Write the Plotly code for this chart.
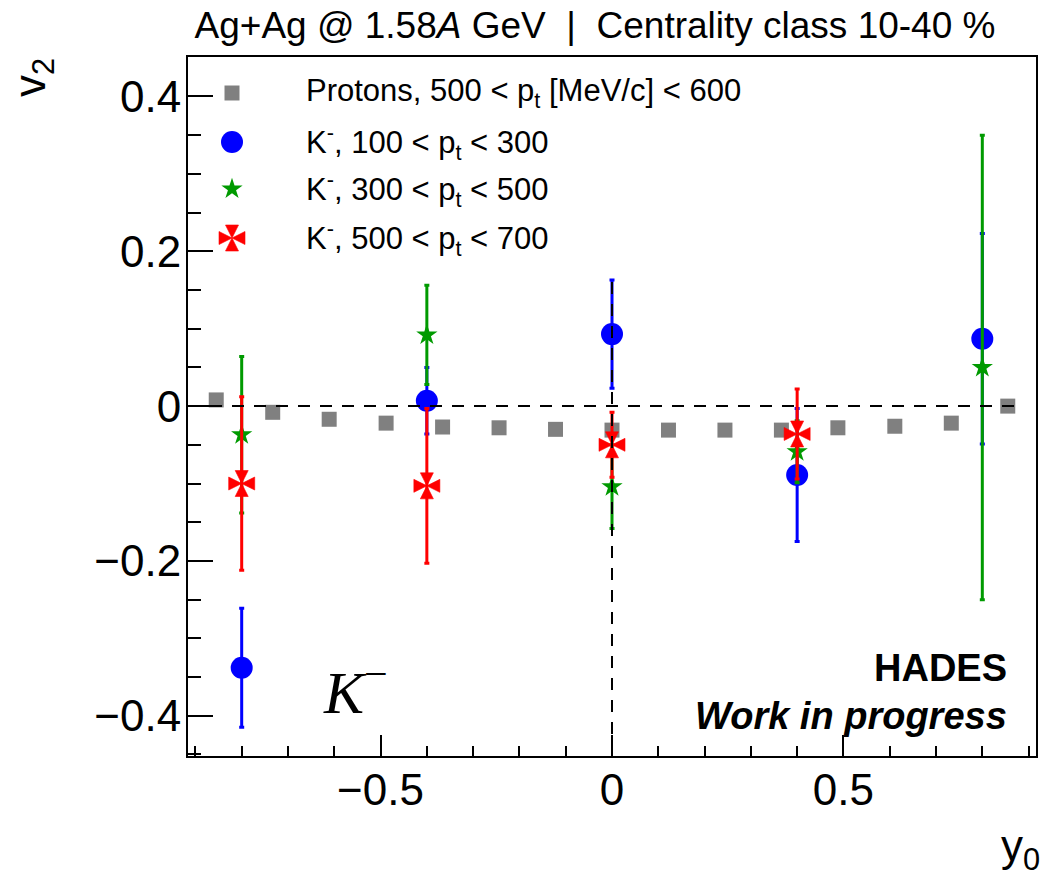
import plotly.graph_objects as go

# ---------------- data ----------------
proton_y0 = [-0.855, -0.733, -0.611, -0.488, -0.366, -0.244, -0.122, 0.0,
             0.122, 0.244, 0.366, 0.488, 0.611, 0.733, 0.855]
proton_v2 = [0.008, -0.008, -0.017, -0.022, -0.027, -0.028, -0.030, -0.031,
             -0.031, -0.031, -0.031, -0.028, -0.026, -0.022, 0.000]

k_y0 = [-0.8, -0.4, 0.0, 0.4, 0.8]
k_low_v2 = [-0.338, 0.007, 0.093, -0.089, 0.087]
k_low_err = [0.077, 0.043, 0.070, 0.086, 0.136]
k_mid_v2 = [-0.037, 0.092, -0.104, -0.059, 0.050]
k_mid_err = [0.101, 0.064, 0.054, 0.040, 0.300]
k_high_y0 = [-0.8, -0.4, 0.0, 0.4]
k_high_v2 = [-0.100, -0.103, -0.050, -0.036]
k_high_err = [0.112, 0.100, 0.042, 0.058]

legend_labels = [
    "Protons, 500 &lt; p<sub>t</sub> [MeV/c] &lt; 600",
    "K<sup>-</sup>, 100 &lt; p<sub>t</sub> &lt; 300",
    "K<sup>-</sup>, 300 &lt; p<sub>t</sub> &lt; 500",
    "K<sup>-</sup>, 500 &lt; p<sub>t</sub> &lt; 700",
]
x_tick_vals = [-0.5, 0.0, 0.5]
x_tick_text = ["\u22120.5", "0", "0.5"]
y_tick_vals = [-0.4, -0.2, 0.0, 0.2, 0.4]
y_tick_text = ["\u22120.4", "\u22120.2", "0", "0.2", "0.4"]

# ---------------- style ----------------
W, H = 1056, 878
ML, MR, MT, MB = 188, 20, 57, 122
XR = [-0.916, 0.916]
YR = [-0.452, 0.451]
FONT = "Liberation Sans, Arial, Helvetica, sans-serif"
GRAY, BLUE, GREEN, RED = "#808080", "#0000ff", "#009a00", "#ff0000"
RED_ARMS = ["arrow-up", "arrow-down", "arrow-left", "arrow-right"]
RED_SIZE = 13

def err(vals, color):
    return dict(type="data", array=vals, visible=True, color=color,
                thickness=3, width=2.5)

fig = go.Figure()

fig.add_trace(go.Scatter(x=proton_y0, y=proton_v2, mode="markers",
                         marker=dict(symbol="square", size=15, color=GRAY),
                         showlegend=False))
fig.add_trace(go.Scatter(x=k_y0, y=k_low_v2, mode="markers",
                         marker=dict(symbol="circle", size=22, color=BLUE),
                         error_y=err(k_low_err, BLUE), showlegend=False))
fig.add_trace(go.Scatter(x=k_y0, y=k_mid_v2, mode="markers",
                         marker=dict(symbol="star", size=16, color=GREEN),
                         error_y=err(k_mid_err, GREEN), showlegend=False))
for i, sym in enumerate(RED_ARMS):
    fig.add_trace(go.Scatter(x=k_high_y0, y=k_high_v2, mode="markers",
                             marker=dict(symbol=sym, size=RED_SIZE, color=RED,
                                         line=dict(width=0.6, color=RED)),
                             error_y=err(k_high_err, RED) if i == 0 else None,
                             showlegend=False))

pw, ph = W - ML - MR, H - MT - MB
def px_x(px):
    return (px - ML) / pw
def px_y(py):
    return (H - MB - py) / ph
def frac_to_x(f):
    return XR[0] + f * (XR[1] - XR[0])
def frac_to_y(f):
    return YR[0] + f * (YR[1] - YR[0])

# ---- manual legend (ROOT-style TLegend inside the frame) ----
leg_x_marker = frac_to_x(px_x(232))
leg_x_text = px_x(304)
leg_rows = [px_y(r) for r in [93, 142, 189, 238]]
leg_y = [frac_to_y(f) for f in leg_rows]

fig.add_trace(go.Scatter(x=[leg_x_marker], y=[leg_y[0]], mode="markers",
                         marker=dict(symbol="square", size=15, color=GRAY),
                         showlegend=False, hoverinfo="skip"))
fig.add_trace(go.Scatter(x=[leg_x_marker], y=[leg_y[1]], mode="markers",
                         marker=dict(symbol="circle", size=22, color=BLUE),
                         showlegend=False, hoverinfo="skip"))
fig.add_trace(go.Scatter(x=[leg_x_marker], y=[leg_y[2]], mode="markers",
                         marker=dict(symbol="star", size=16, color=GREEN),
                         showlegend=False, hoverinfo="skip"))
for sym in RED_ARMS:
    fig.add_trace(go.Scatter(x=[leg_x_marker], y=[leg_y[3]], mode="markers",
                             marker=dict(symbol=sym, size=RED_SIZE, color=RED,
                                         line=dict(width=0.6, color=RED)),
                             showlegend=False, hoverinfo="skip"))

annotations = []
for lbl, yy in zip(legend_labels, leg_rows):
    annotations.append(dict(text=lbl, x=leg_x_text, y=yy, xref="paper", yref="paper",
                            xanchor="left", yanchor="middle", showarrow=False,
                            font=dict(family=FONT, size=31, color="black")))

annotations += [
    dict(text="<b>HADES</b>", x=px_x(1009), y=px_y(668), xref="paper", yref="paper",
         xanchor="right", yanchor="middle", showarrow=False,
         font=dict(family=FONT, size=38, color="black")),
    dict(text="<b><i>Work in progress</i></b>", x=px_x(1009), y=px_y(716),
         xref="paper", yref="paper", xanchor="right", yanchor="middle", showarrow=False,
         font=dict(family=FONT, size=38, color="black")),
    dict(text="<i>K</i><sup>\u2212</sup>", x=px_x(355), y=px_y(688), xref="paper", yref="paper",
         xanchor="center", yanchor="middle", showarrow=False,
         font=dict(family="Liberation Serif, Times New Roman, serif", size=60, color="black")),
    dict(text="v<sub>2</sub>", x=px_x(33), y=px_y(78), xref="paper", yref="paper",
         xanchor="center", yanchor="middle", showarrow=False, textangle=-90,
         font=dict(family=FONT, size=44, color="black")),
    dict(text="y<sub>0</sub>", x=px_x(1042), y=px_y(849), xref="paper", yref="paper",
         xanchor="right", yanchor="middle", showarrow=False,
         font=dict(family=FONT, size=44, color="black")),
]

shapes = [
    dict(type="line", xref="x", yref="y", x0=XR[0], x1=0.885, y0=0, y1=0,
         line=dict(color="black", width=2, dash="12px,10px"), layer="above"),
    dict(type="line", xref="x", yref="y", x0=0, x1=0, y0=YR[0], y1=0.165,
         line=dict(color="black", width=2, dash="12px,10px"), layer="above"),
]

fig.update_layout(
    width=W, height=H, autosize=False,
    margin=dict(l=ML, r=MR, t=MT, b=MB, pad=0, autoexpand=False),
    paper_bgcolor="white", plot_bgcolor="white",
    showlegend=False,
    font=dict(family=FONT, color="black"),
    title=dict(text="Ag+Ag @ 1.58<i>A</i> GeV \u00a0|\u00a0 Centrality class 10-40 %",
               xref="container", yref="container", x=595 / W, y=1 - 25 / H,
               xanchor="center", yanchor="middle",
               font=dict(family=FONT, size=37, color="black")),
    xaxis=dict(range=XR, showgrid=False, zeroline=False, showline=True, mirror=True,
               automargin=False,
               linecolor="black", linewidth=2, ticks="inside", ticklen=21, tickwidth=2,
               tickcolor="black", tickvals=x_tick_vals, ticktext=x_tick_text,
               tickfont=dict(family=FONT, size=44, color="black"),
               ticklabelstandoff=-6,
               minor=dict(dtick=0.1, tick0=0, ticks="inside", ticklen=10.5, tickwidth=2,
                          tickcolor="black", showgrid=False)),
    yaxis=dict(range=YR, showgrid=False, zeroline=False, showline=True, mirror=True,
               automargin=False,
               linecolor="black", linewidth=2, ticks="inside", ticklen=25, tickwidth=2,
               tickcolor="black", tickvals=y_tick_vals, ticktext=y_tick_text,
               tickfont=dict(family=FONT, size=44, color="black"),
               ticklabelstandoff=-4,
               minor=dict(dtick=0.05, tick0=0, ticks="inside", ticklen=12.7, tickwidth=2,
                          tickcolor="black", showgrid=False)),
    annotations=annotations,
    shapes=shapes,
)

fig.write_html("out.html")
